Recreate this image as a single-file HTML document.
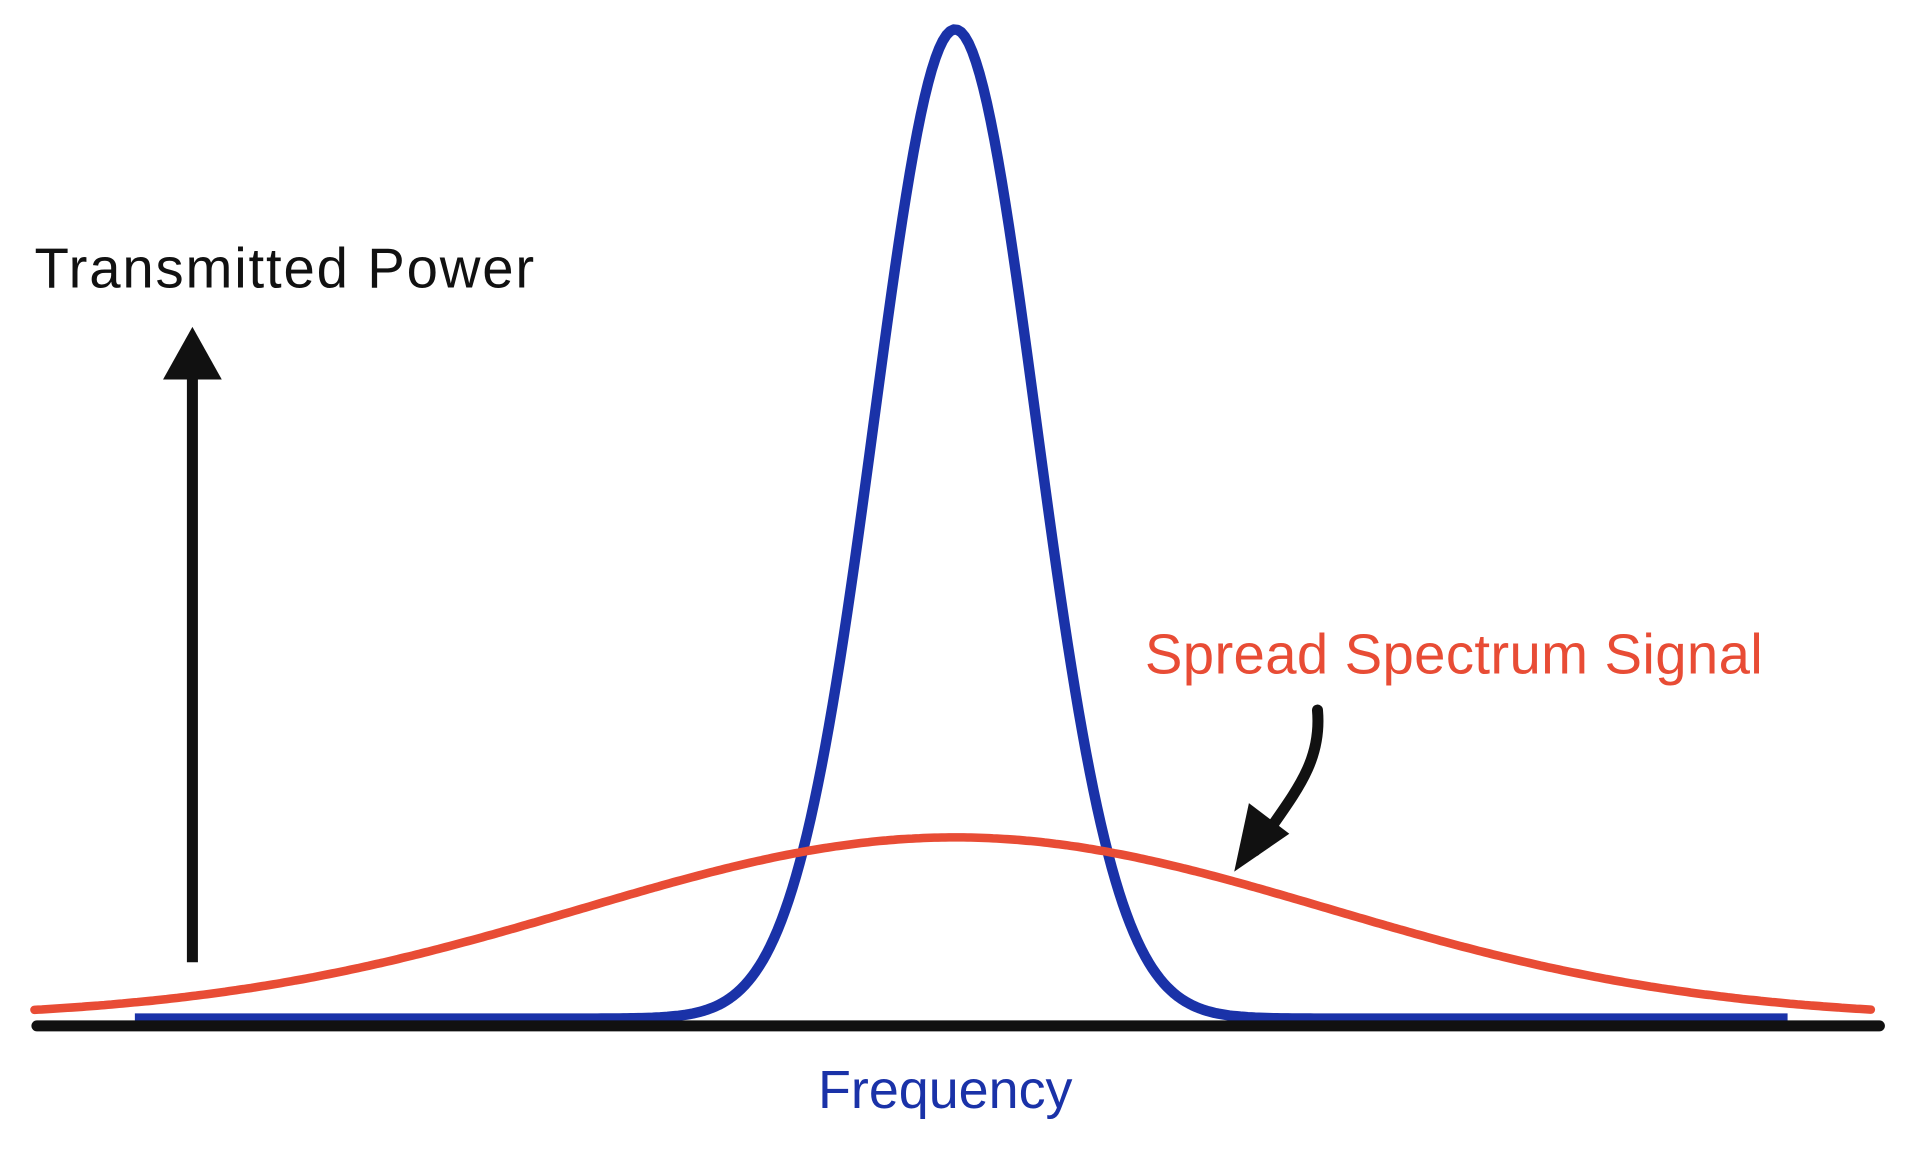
<!DOCTYPE html>
<html><head><meta charset="utf-8"><style>
html,body{margin:0;padding:0;background:#fff;width:1920px;height:1152px;overflow:hidden}
svg{display:block}
text{font-family:"Liberation Sans",sans-serif}
</style></head><body>
<svg width="1920" height="1152" viewBox="0 0 1568 941" xmlns="http://www.w3.org/2000/svg">
<rect width="1568" height="941" fill="#fff"/>
<path id="blue" d="" fill="none" stroke="#1a32a8" stroke-width="8.5" stroke-linejoin="round"/>
<path id="red" d="" fill="none" stroke="#e84c35" stroke-width="7" stroke-linecap="round"/>
<line x1="30" y1="838" x2="1535" y2="838" stroke="#111" stroke-width="9" stroke-linecap="round"/>
<line x1="157" y1="786" x2="157" y2="305" stroke="#111" stroke-width="9"/>
<polygon points="157,267 133,310 181,310" fill="#111"/>
<path d="M1076,580 C1080,625 1055,650 1025,695" fill="none" stroke="#111" stroke-width="9" stroke-linecap="round"/>
<polygon points="1008,712 1020,656 1053,681" fill="#111"/>
<text x="28" y="235" font-size="46" letter-spacing="1.5" fill="#111">Transmitted Power</text>
<text x="935" y="550" font-size="46" letter-spacing="0.3" fill="#e84c35">Spread Spectrum Signal</text>
<text x="668" y="905" font-size="44" fill="#1a32a8">Frequency</text>
</svg>
<script>
function g(c,s,h,base,x0,x1){var d="";for(var x=x0;x<=x1;x+=3){var y=base-h*Math.exp(-(x-c)*(x-c)/(2*s*s));d+=(d?"L":"M")+x+","+y.toFixed(1);}return d;}
document.getElementById("blue").setAttribute("d",g(780,66,808,832,110,1460));
document.getElementById("red").setAttribute("d",g(780,305,148,832,28,1530));
</script>
</body></html>
